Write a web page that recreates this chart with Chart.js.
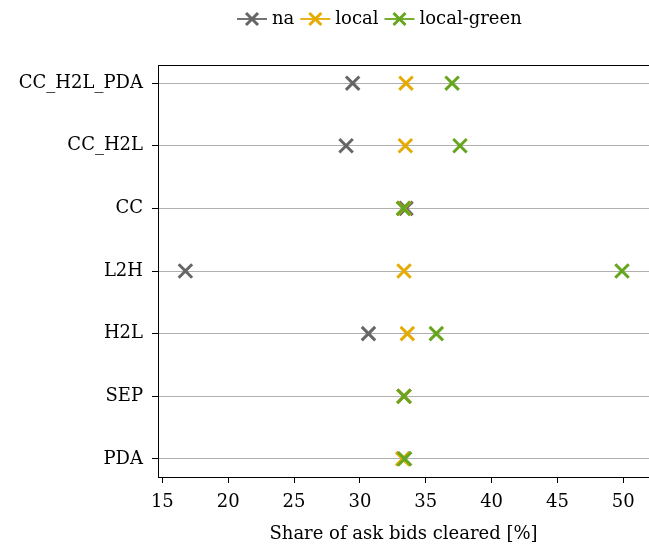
<!DOCTYPE html>
<html><head><meta charset="utf-8">
<script src="https://cdn.jsdelivr.net/npm/chart.js@4/dist/chart.umd.min.js"></script>
<style>html,body{margin:0;padding:0;background:#fff;}#wrap{width:649px;height:545px;}</style>
</head><body><div id="wrap"><canvas id="c" width="649" height="545"></canvas></div>
<script>
// Mechanisms, listed top to bottom
const categories = ['CC_H2L_PDA', 'CC_H2L', 'CC', 'L2H', 'H2L', 'SEP', 'PDA'];
// Share of ask bids cleared [%] per mechanism
const naValues    = [29.45, 28.95, 33.5, 16.75, 30.65, 33.35, 33.3];
const localValues = [33.5, 33.45, 33.35, 33.35, 33.6, 33.35, 33.25];
const greenValues = [37.0, 37.6, 33.3, 49.9, 35.8, 33.35, 33.4];
const xTickValues = [15, 20, 25, 30, 35, 40, 45, 50];
const seriesNames = ['na', 'local', 'local-green'];

const FONT = "'DejaVu Serif', 'Liberation Serif', serif";
const FSIZE = 18;
const toPoints = vals => vals.map((v, i) => ({x: v, y: i}));

const series = [
  {label: seriesNames[0], data: toPoints(naValues), color: '#666666', order: 3},
  {label: seriesNames[1], data: toPoints(localValues), color: '#E6AB02', order: 2},
  {label: seriesNames[2], data: toPoints(greenValues), color: '#66A61E', order: 1}
];

// Frame line along the top of the plot area
const topSpine = {
  id: 'topSpine',
  afterDraw(chart) {
    const {ctx, chartArea: a} = chart;
    ctx.save();
    ctx.strokeStyle = '#000';
    ctx.lineWidth = 1;
    ctx.beginPath();
    ctx.moveTo(a.left, a.top + 0.5);
    ctx.lineTo(a.right, a.top + 0.5);
    ctx.stroke();
    ctx.restore();
  }
};

// Legend with a short line through each marker
const lineLegend = {
  id: 'lineLegend',
  afterDraw(chart) {
    const {ctx} = chart;
    ctx.save();
    ctx.font = FSIZE + 'px ' + FONT;
    ctx.textBaseline = 'middle';
    const y = 19;
    let x = 237;
    chart.data.datasets.forEach(ds => {
      ctx.strokeStyle = ds.borderColor;
      ctx.lineWidth = 1.8;
      ctx.beginPath();
      ctx.moveTo(x, y);
      ctx.lineTo(x + 30, y);
      ctx.stroke();
      ctx.lineWidth = 3;
      const r = 6, cx = x + 15;
      ctx.beginPath();
      ctx.moveTo(cx - r, y - r); ctx.lineTo(cx + r, y + r);
      ctx.moveTo(cx - r, y + r); ctx.lineTo(cx + r, y - r);
      ctx.stroke();
      ctx.fillStyle = '#000';
      ctx.fillText(ds.label, x + 35, y);
      x += 35 + ctx.measureText(ds.label).width + 6;
    });
    ctx.restore();
  }
};

new Chart(document.getElementById('c'), {
  type: 'scatter',
  data: {
    datasets: series.map(s => ({
      label: s.label,
      data: s.data,
      order: s.order,
      borderColor: s.color,
      backgroundColor: s.color,
      pointStyle: 'crossRot',
      pointRadius: 9.5,
      pointHoverRadius: 9.5,
      pointBorderWidth: 3,
      showLine: false
    }))
  },
  options: {
    responsive: false,
    animation: false,
    devicePixelRatio: 1,
    layout: {autoPadding: false, padding: {top: 65, right: 0, left: 0, bottom: 0}},
    plugins: {legend: {display: false}, tooltip: {enabled: false}},
    scales: {
      x: {
        type: 'linear',
        min: 14.67,
        max: 51.95,
        afterBuildTicks: s => { s.ticks = xTickValues.map(v => ({value: v})); },
        afterFit: s => { s.height = 68; s.paddingLeft = 0; s.paddingRight = 0; },
        border: {color: '#000', width: 1},
        grid: {drawOnChartArea: false, drawTicks: true, tickLength: 6, tickColor: '#000'},
        ticks: {color: '#000', font: {family: FONT, size: FSIZE}, padding: 9, maxRotation: 0},
        title: {display: true, text: 'Share of ask bids cleared [%]', color: '#000',
                font: {family: FONT, size: FSIZE}, padding: {top: 2, bottom: 0}}
      },
      y: {
        type: 'linear',
        reverse: true,
        min: -0.29,
        max: 6.29,
        afterBuildTicks: s => { s.ticks = categories.map((c, i) => ({value: i})); },
        afterFit: s => { s.width = 158; s.paddingTop = 0; s.paddingBottom = 0; },
        border: {color: '#000', width: 1},
        grid: {color: '#b0b0b0', lineWidth: 1, drawTicks: true, tickLength: 6, tickColor: '#000'},
        ticks: {color: '#000', font: {family: FONT, size: FSIZE}, padding: 9,
                callback: v => categories[v]}
      }
    }
  },
  plugins: [topSpine, lineLegend]
});
</script></body></html>
